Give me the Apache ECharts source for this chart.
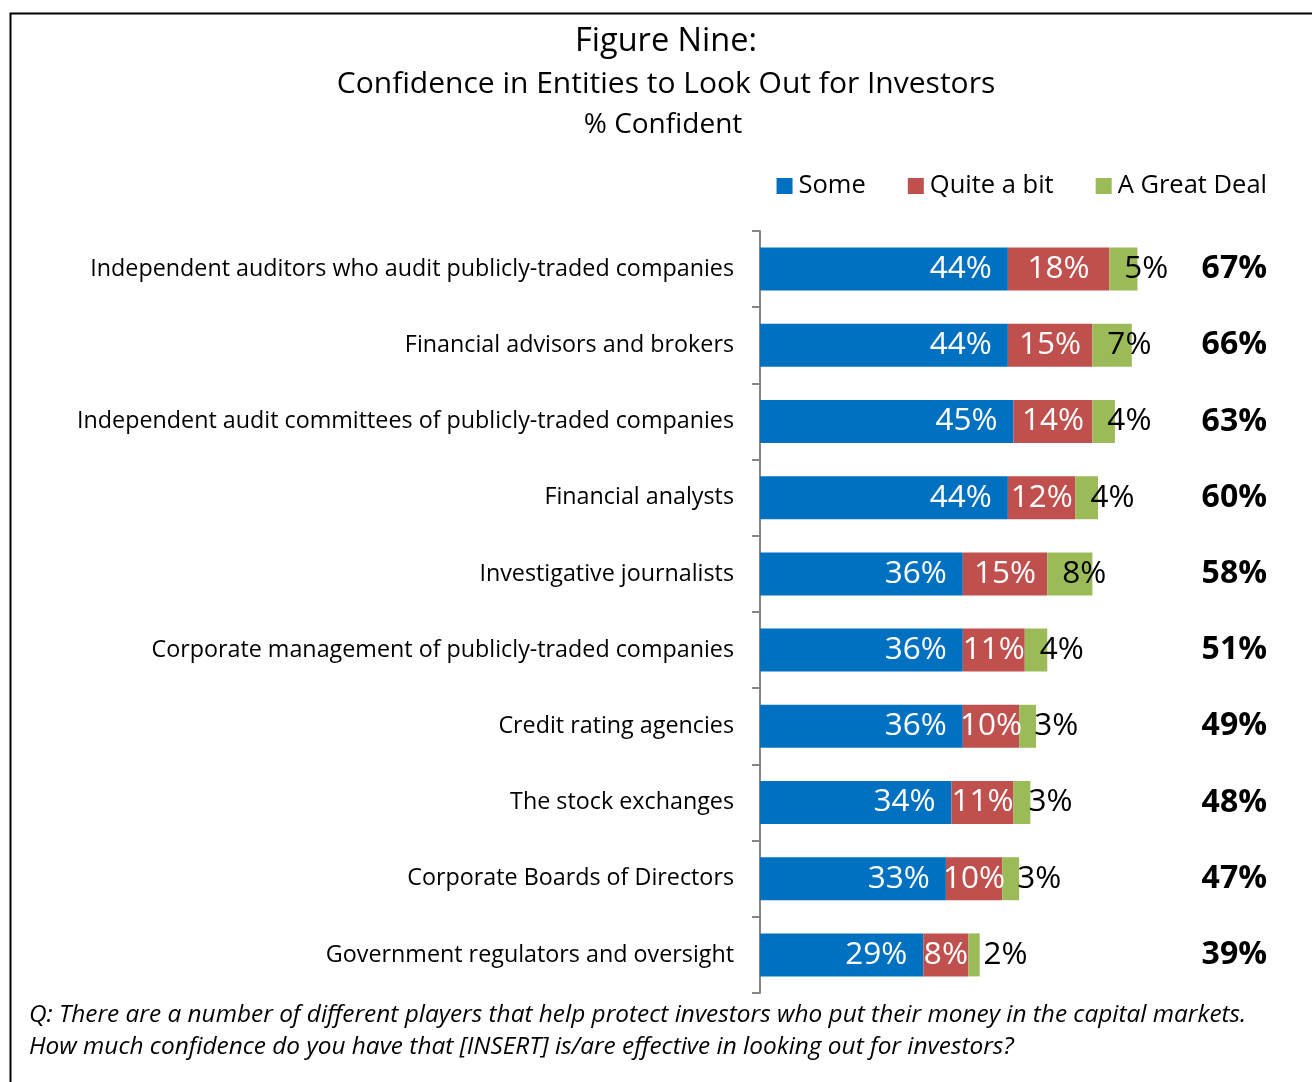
<!DOCTYPE html>
<html>
<head>
<meta charset="utf-8">
<script src="https://cdn.jsdelivr.net/npm/echarts@6/dist/echarts.min.js"></script>
<style>
html,body{margin:0;padding:0;background:#fff;}
#chart{width:1312px;height:1082px;}
</style>
</head>
<body>
<div id="chart"></div>
<script>
const categories = [
  "Independent auditors who audit publicly-traded companies",
  "Financial advisors and brokers",
  "Independent audit committees of publicly-traded companies",
  "Financial analysts",
  "Investigative journalists",
  "Corporate management of publicly-traded companies",
  "Credit rating agencies",
  "The stock exchanges",
  "Corporate Boards of Directors",
  "Government regulators and oversight"
];
const some = [44, 44, 45, 44, 36, 36, 36, 34, 33, 29];
const quiteABit = [18, 15, 14, 12, 15, 11, 10, 11, 10, 8];
const greatDeal = [5, 7, 4, 4, 8, 4, 3, 3, 3, 2];
const totals = [67, 66, 63, 60, 58, 51, 49, 48, 47, 39];
const seriesNames = ["Some", "Quite a bit", "A Great Deal"];

const FONT = "'Open Sans', 'Noto Sans', sans-serif";
const chart = echarts.init(document.getElementById('chart'), null, {renderer: 'canvas'});

const pct = p => p.value + '%';
const option = {
  backgroundColor: '#fff',
  animation: false,
  textStyle: {fontFamily: FONT},
  title: [
    {text: 'Figure Nine:', left: 661, textAlign: 'center', top: 20, textStyle: {fontFamily: FONT, fontSize: 32.5, fontWeight: 'normal', color: '#000'}},
    {text: 'Confidence in Entities to Look Out for Investors', left: 661, textAlign: 'center', top: 64, textStyle: {fontFamily: FONT, fontSize: 30, fontWeight: 'normal', color: '#000'}},
    {text: '% Confident', left: 658, textAlign: 'center', top: 106, textStyle: {fontFamily: FONT, fontSize: 28, fontWeight: 'normal', color: '#000'}}
  ],
  legend: {
    right: 40, top: 168,
    itemWidth: 16, itemHeight: 16, itemGap: 42,
    icon: 'rect',
    textStyle: {fontFamily: FONT, fontSize: 25.5, color: '#000', padding: [0, 0, 0, 1]},
    data: seriesNames
  },
  grid: {left: 760, right: 45, top: 231, bottom: 89, containLabel: false},
  xAxis: {
    type: 'value', min: 0, max: 90, show: false
  },
  yAxis: [
    {
      type: 'category', data: categories, inverse: true,
      axisLine: {show: true, lineStyle: {color: '#868686', width: 2}},
      axisTick: {show: true, length: 8, lineStyle: {color: '#868686', width: 2}},
      axisLabel: {fontFamily: FONT, fontSize: 23.3, color: '#000', margin: 26, padding: [5, 0, 0, 0]}
    },
    {
      type: 'category', data: totals.map(v => v + '%'), inverse: true, position: 'right',
      axisLine: {show: false}, axisTick: {show: false},
      axisLabel: {fontFamily: FONT, fontSize: 32, fontWeight: 'bold', color: '#000', align: 'right', margin: 0, padding: [7, 0, 0, 0]}
    }
  ],
  series: [
    {
      name: seriesNames[0], type: 'bar', stack: 'total', data: some, barWidth: 43,
      itemStyle: {color: '#0070C0'},
      label: {show: true, position: 'insideRight', distance: 16, formatter: pct, color: '#fff', fontFamily: FONT, fontSize: 31.5, padding: [6, 0, 0, 0]}
    },
    {
      name: seriesNames[1], type: 'bar', stack: 'total', data: quiteABit, barWidth: 43,
      itemStyle: {color: '#C0504D'},
      label: {show: true, position: 'inside', formatter: pct, color: '#fff', fontFamily: FONT, fontSize: 31.5, padding: [6, 0, 0, 0]}
    },
    {
      name: seriesNames[2], type: 'bar', stack: 'total', data: greatDeal, barWidth: 43,
      itemStyle: {color: '#9BBB59'},
      label: {show: true, position: 'insideLeft', distance: 15, formatter: pct, color: '#000', fontFamily: FONT, fontSize: 31.5, padding: [6, 0, 0, 0]}
    }
  ],
  graphic: [
    {type: 'rect', left: 8, top: 11, shape: {width: 1330, height: 1100}, style: {fill: 'none', stroke: '#000', lineWidth: 2}, silent: true},
    {type: 'text', left: 29, top: 1003, style: {text: 'Q: There are a number of different players that help protect investors who put their money in the capital markets.', font: 'italic 24.4px ' + FONT, fill: '#000'}},
    {type: 'text', left: 29, top: 1035, style: {text: 'How much confidence do you have that [INSERT] is/are effective in looking out for investors?', font: 'italic 24.4px ' + FONT, fill: '#000'}}
  ]
};
chart.setOption(option);
</script>
</body>
</html>
